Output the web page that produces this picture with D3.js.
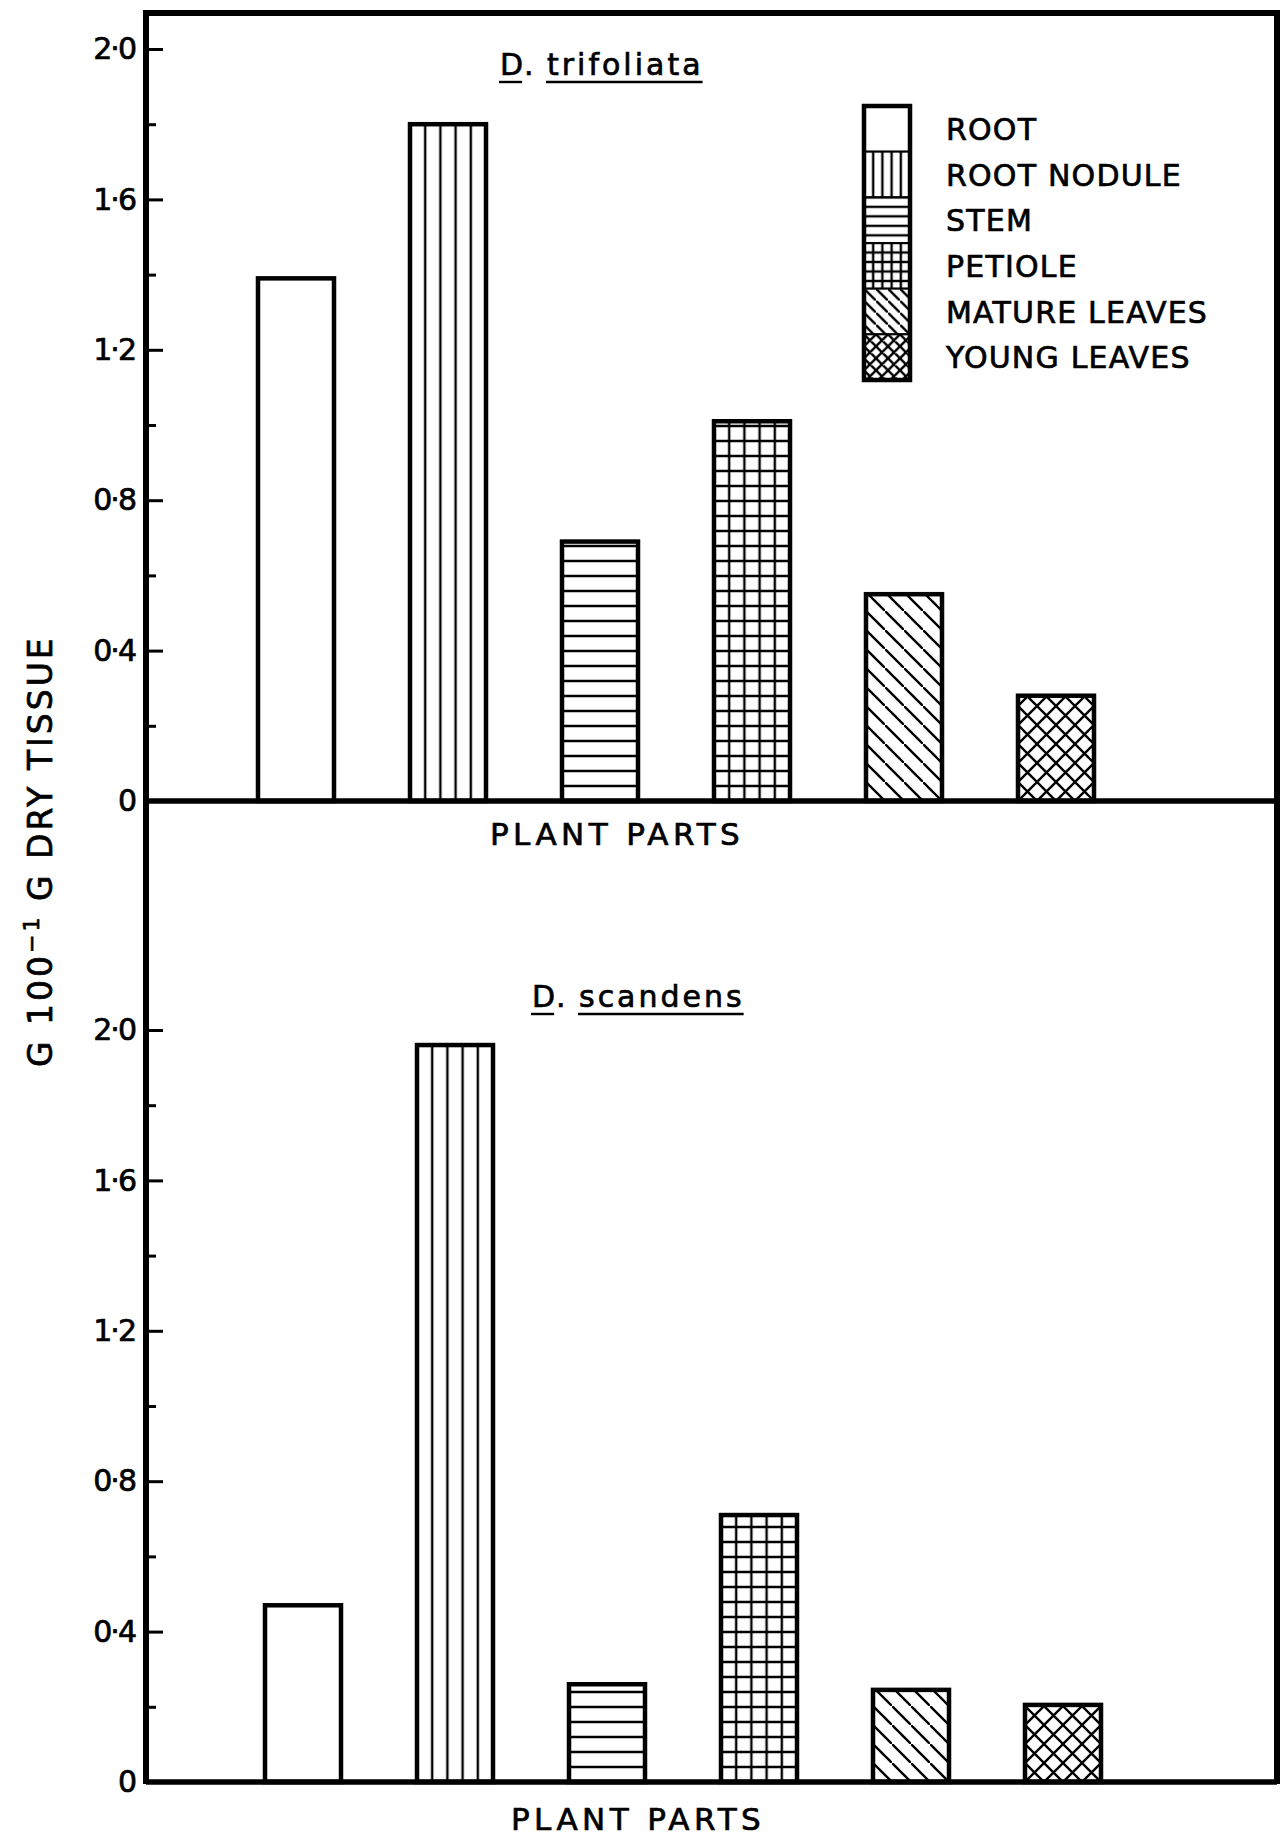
<!DOCTYPE html>
<html>
<head>
<meta charset="utf-8">
<script src="https://cdn.jsdelivr.net/npm/d3@7"></script>
<style>
    body { margin: 0; background: white; }
    svg { display: block; }
    text { font-family: "DejaVu Sans", sans-serif; fill: black; stroke: black; stroke-width: 0.7px; }
</style>
</head>
<body>
<script>
// plant parts and values (g per 100 g dry tissue)
var parts = ["ROOT", "ROOT NODULE", "STEM", "PETIOLE", "MATURE LEAVES", "YOUNG LEAVES"]
var trifoliata = [1.39, 1.80, 0.69, 1.01, 0.55, 0.28]
var scandens = [0.47, 1.96, 0.26, 0.71, 0.245, 0.205]
var hatches = ["none", "vertical", "horizontal", "grid", "diagonal", "cross"]

// y axis ticks
var majorTicks = [0, 0.4, 0.8, 1.2, 1.6, 2.0]
var minorTicks = [0.2, 0.6, 1.0, 1.4, 1.8]
var tickLabels = ["0", "0·4", "0·8", "1·2", "1·6", "2·0"]

var width = 1283
var height = 1836
var frame = {left: 146, right: 1277, top: 13}

// layout of the two stacked panels
var panels = [
    {genus: "D", species: "trifoliata", values: trifoliata,
     yTop: 49, yBottom: 801, xStart: 220, titleX: 500, titleY: 75,
     labelX: 490, labelY: 845},
    {genus: "D", species: "scandens", values: scandens,
     yTop: 1030, yBottom: 1782, xStart: 227, titleX: 532, titleY: 1007,
     labelX: 511, labelY: 1830}
]

var svg = d3.select("body")
    .append("svg")
    .attr("width", width)
    .attr("height", height)
    .style("background", "white")

var defs = svg.append("defs")

// make a hatch pattern anchored at (x0, y0)
function addPattern(id, type, x0, y0, colW, rowH, diag) {
    var w = colW, h = rowH
    if (type == "diagonal" || type == "cross") { w = diag; h = diag }
    var p = defs.append("pattern")
        .attr("id", id)
        .attr("patternUnits", "userSpaceOnUse")
        .attr("x", x0)
        .attr("y", y0)
        .attr("width", w)
        .attr("height", h)
    p.append("rect").attr("width", w).attr("height", h).attr("fill", "white")
    var d = ""
    if (type == "vertical" || type == "grid") {
        d += "M0,0 L0," + h + " M" + w + ",0 L" + w + "," + h + " "
    }
    if (type == "horizontal" || type == "grid") {
        d += "M0,0 L" + w + ",0 M0," + h + " L" + w + "," + h + " "
    }
    if (type == "diagonal" || type == "cross") {
        d += "M0,0 L" + w + "," + h + " M-2,-2 L2,2 M" + (w - 2) + "," + (h - 2) + " L" + (w + 2) + "," + (h + 2) + " "
    }
    if (type == "cross") {
        d += "M0," + h + " L" + w + ",0 M-2," + (h + 2) + " L2," + (h - 2) + " M" + (w - 2) + ",2 L" + (w + 2) + ",-2"
    }
    p.append("path")
        .attr("d", d)
        .attr("stroke", "black")
        .attr("stroke-width", 2.4)
        .attr("fill", "none")
}

function fillFor(id, type) {
    return type == "none" ? "white" : "url(#" + id + ")"
}

panels.forEach(function(panel, pi) {
    var y = d3.scaleLinear()
        .domain([0, 2])
        .range([panel.yBottom, panel.yTop])

    var x = d3.scaleBand()
        .domain(parts)
        .range([panel.xStart, panel.xStart + 912])
        .paddingInner(0.5)
        .paddingOuter(0.25)

    var g = svg.append("g")

    // patterns for every bar, lined up with its left edge and the baseline
    parts.forEach(function(part, i) {
        if (hatches[i] != "none") {
            addPattern("h" + pi + "-" + i, hatches[i], x(part), y(0),
                x.bandwidth() / 5, 15, 19)
        }
    })

    g.selectAll(".bar")
        .data(panel.values)
        .enter()
        .append("rect")
        .attr("class", "bar")
        .attr("x", function(d, i) { return x(parts[i]) })
        .attr("y", function(d) { return y(d) })
        .attr("width", x.bandwidth())
        .attr("height", function(d) { return y(0) - y(d) })
        .attr("fill", function(d, i) { return fillFor("h" + pi + "-" + i, hatches[i]) })
        .attr("stroke", "black")
        .attr("stroke-width", 4.5)

    // major ticks with labels, drawn inward
    var yAxis = d3.axisLeft(y)
        .tickValues(majorTicks)
        .tickFormat(function(d, i) { return tickLabels[i] })
        .tickSizeInner(-17)
        .tickSizeOuter(0)
        .tickPadding(11)
    var ax = g.append("g")
        .attr("transform", "translate(" + frame.left + ",0)")
        .call(yAxis)
    ax.select(".domain").remove()
    ax.selectAll(".tick line").attr("stroke-width", 3)
    ax.selectAll(".tick text")
        .attr("font-family", "DejaVu Sans")
        .attr("font-size", 30)
        .attr("letter-spacing", -2)

    // minor ticks
    var minorAxis = d3.axisLeft(y)
        .tickValues(minorTicks)
        .tickFormat("")
        .tickSizeInner(-10)
        .tickSizeOuter(0)
    var mx = g.append("g")
        .attr("transform", "translate(" + frame.left + ",0)")
        .call(minorAxis)
    mx.select(".domain").remove()
    mx.selectAll(".tick line").attr("stroke-width", 3)

    // baseline across the whole frame
    g.append("line")
        .attr("x1", frame.left)
        .attr("x2", frame.right)
        .attr("y1", y(0))
        .attr("y2", y(0))
        .attr("stroke", "black")
        .attr("stroke-width", 5.5)

    // title, genus and species underlined separately
    var genus = g.append("text")
        .attr("x", panel.titleX)
        .attr("y", panel.titleY)
        .attr("font-size", 30)
        .text(panel.genus)
    g.append("text")
        .attr("x", panel.titleX + 24)
        .attr("y", panel.titleY)
        .attr("font-size", 30)
        .text(".")
    var species = g.append("text")
        .attr("x", panel.titleX + 47)
        .attr("y", panel.titleY)
        .attr("font-size", 30)
        .attr("letter-spacing", 3)
        .text(panel.species)
    ;[genus, species].forEach(function(t) {
        var b = t.node().getBBox()
        g.append("line")
            .attr("x1", b.x - 1)
            .attr("x2", b.x + b.width - 1)
            .attr("y1", panel.titleY + 7)
            .attr("y2", panel.titleY + 7)
            .attr("stroke", "black")
            .attr("stroke-width", 2.4)
    })

    g.append("text")
        .attr("x", panel.labelX)
        .attr("y", panel.labelY)
        .attr("font-size", 31)
        .attr("letter-spacing", 4.4)
        .text("PLANT PARTS")
})

// outer frame: left, top and right sides
svg.append("path")
    .attr("d", "M" + frame.left + "," + (panels[1].yBottom + 2) +
        " L" + frame.left + "," + frame.top +
        " L" + frame.right + "," + frame.top +
        " L" + frame.right + "," + (panels[1].yBottom + 2))
    .attr("fill", "none")
    .attr("stroke", "black")
    .attr("stroke-width", 6)

// legend in the upper panel
var legendY = d3.scaleBand()
    .domain(parts)
    .range([106, 380])
var legendX = 864
var legendW = 46
var legend = svg.append("g")

parts.forEach(function(part, i) {
    if (hatches[i] != "none") {
        addPattern("lg-" + i, hatches[i], legendX, legendY(part), legendW / 5, 9.5, 12)
    }
})

legend.selectAll(".cell")
    .data(parts)
    .enter()
    .append("rect")
    .attr("class", "cell")
    .attr("x", legendX)
    .attr("y", function(d) { return legendY(d) })
    .attr("width", legendW)
    .attr("height", legendY.bandwidth())
    .attr("fill", function(d, i) { return fillFor("lg-" + i, hatches[i]) })
    .attr("stroke", "black")
    .attr("stroke-width", 2)

legend.append("rect")
    .attr("x", legendX)
    .attr("y", legendY.range()[0])
    .attr("width", legendW)
    .attr("height", legendY.range()[1] - legendY.range()[0])
    .attr("fill", "none")
    .attr("stroke", "black")
    .attr("stroke-width", 4.5)

legend.selectAll(".label")
    .data(parts)
    .enter()
    .append("text")
    .attr("class", "label")
    .attr("x", 946)
    .attr("y", function(d) { return legendY(d) + legendY.bandwidth() / 2 + 11 })
    .attr("font-size", 30)
    .attr("letter-spacing", 1.2)
    .text(function(d) { return d })

// rotated y axis title
var yTitle = svg.append("text")
    .attr("transform", "translate(52,1067) rotate(-90)")
    .attr("font-size", 33)
    .attr("letter-spacing", 3)
yTitle.append("tspan").text("G 100")
yTitle.append("tspan").attr("dy", -13).attr("font-size", 22).text("−1")
yTitle.append("tspan").attr("dy", 13).text(" G DRY TISSUE")
</script>
</body>
</html>
